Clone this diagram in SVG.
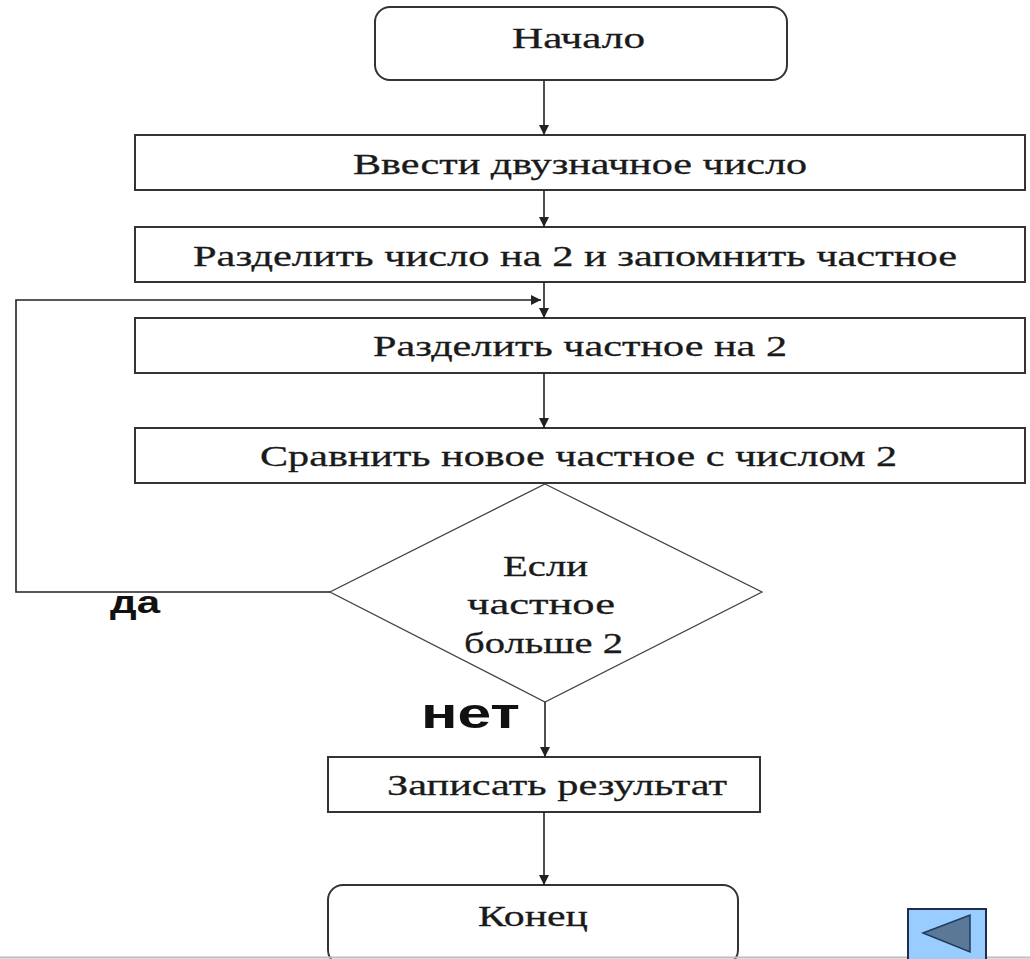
<svg xmlns="http://www.w3.org/2000/svg" width="1030" height="959" viewBox="0 0 1030 959">
<defs>
<marker id="ah" viewBox="0 0 10 10" refX="10" refY="5" markerWidth="10" markerHeight="10" markerUnits="userSpaceOnUse" orient="auto">
<path d="M0,0 L10,5 L0,10 z" fill="#222"/>
</marker>
</defs>
<style>
.box{fill:#fff;stroke:#333;stroke-width:2}
.dia{fill:#fff;stroke:#444;stroke-width:1.3}
.lbl{font-family:"Liberation Serif","DejaVu Serif",serif;font-size:30px;fill:#1a1a1a;stroke:#1a1a1a;stroke-width:0.3;text-anchor:start}
.yn{font-family:"Liberation Sans",Arial,sans-serif;font-weight:bold;fill:#111}
.con{fill:none;stroke:#222;stroke-width:1.6}
</style>
<rect width="1030" height="959" fill="#fff"/>
<g id="start">
<rect class="box" x="375" y="7" width="412" height="73" rx="15"/>
<text class="lbl" x="512" y="48" textLength="133" lengthAdjust="spacingAndGlyphs">Начало</text>
</g>
<g id="input">
<rect class="box" x="135" y="135" width="890" height="55"/>
<text class="lbl" x="353" y="174" textLength="454" lengthAdjust="spacingAndGlyphs">Ввести двузначное число</text>
</g>
<g id="divide1">
<rect class="box" x="135" y="227" width="890" height="55"/>
<text class="lbl" x="193" y="266" textLength="764" lengthAdjust="spacingAndGlyphs">Разделить число на 2 и запомнить частное</text>
</g>
<g id="divide2">
<rect class="box" x="135" y="318" width="890" height="55"/>
<text class="lbl" x="373" y="356" textLength="414" lengthAdjust="spacingAndGlyphs">Разделить частное на 2</text>
</g>
<g id="compare">
<rect class="box" x="135" y="428" width="890" height="55"/>
<text class="lbl" x="260" y="466" textLength="637" lengthAdjust="spacingAndGlyphs">Сравнить новое частное с числом 2</text>
</g>
<g id="decision">
<polygon class="dia" points="545,484 762,592 545,702 330,592"/>
<text class="lbl" x="503" y="576" textLength="85" lengthAdjust="spacingAndGlyphs">Если</text>
<text class="lbl" x="467" y="614" textLength="148" lengthAdjust="spacingAndGlyphs">частное</text>
<text class="lbl" x="464" y="653" textLength="159" lengthAdjust="spacingAndGlyphs">больше 2</text>
</g>
<g id="write">
<rect class="box" x="328" y="757" width="432" height="55"/>
<text class="lbl" x="387" y="795" textLength="340" lengthAdjust="spacingAndGlyphs">Записать результат</text>
</g>
<g id="end">
<rect class="box" x="328" y="885" width="410" height="80" rx="15"/>
<text class="lbl" x="478" y="926" textLength="110" lengthAdjust="spacingAndGlyphs">Конец</text>
</g>
<g id="connectors">
<line class="con" x1="544" y1="80" x2="544" y2="135" marker-end="url(#ah)"/>
<line class="con" x1="544" y1="190" x2="544" y2="227" marker-end="url(#ah)"/>
<line class="con" x1="544" y1="282" x2="544" y2="318" marker-end="url(#ah)"/>
<line class="con" x1="544" y1="373" x2="544" y2="428" marker-end="url(#ah)"/>
<polyline class="con" points="330,592 16,592 16,300 541,300" marker-end="url(#ah)"/>
<line class="con" x1="545" y1="702" x2="545" y2="757" marker-end="url(#ah)"/>
<line class="con" x1="544" y1="812" x2="544" y2="885" marker-end="url(#ah)"/>
</g>
<text class="yn" x="110" y="613" font-size="32" textLength="50" lengthAdjust="spacingAndGlyphs">да</text>
<text class="yn" x="421" y="728" font-size="42" textLength="99" lengthAdjust="spacingAndGlyphs">нет</text>
<line x1="0" y1="957.5" x2="1030" y2="957.5" stroke="#bdbdbd" stroke-width="2"/>
<g id="back-button">
<rect x="908" y="909" width="78" height="55" fill="#99ccff" stroke="#1f2f4a" stroke-width="2"/>
<polygon points="923,933 970,915 970,952" fill="#5b7897" stroke="#1f3a5f" stroke-width="1.5"/>
</g>
</svg>
